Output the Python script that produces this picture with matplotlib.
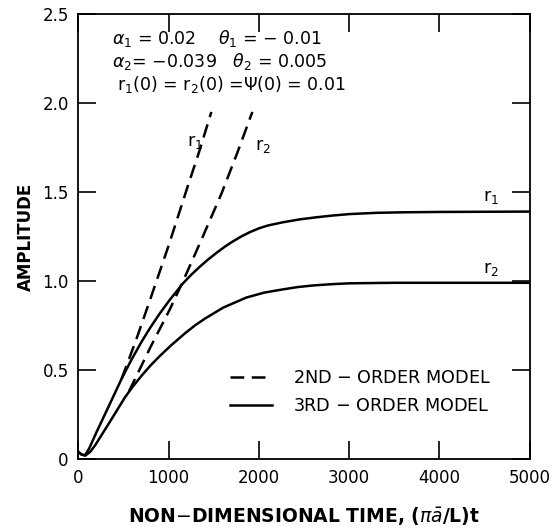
import matplotlib
matplotlib.use("Agg")
import matplotlib.pyplot as plt
from matplotlib.lines import Line2D

# ---- data ----
t_r1_3rd = [0, 35, 72, 120, 200, 330, 478, 590, 699, 800, 902, 1012, 1159, 1250, 1340, 1430, 1529,
            1620, 1700, 1800, 1897, 2000, 2100, 2266, 2450, 2635, 2820, 3003, 3300, 3600, 4000, 4500, 5000]
a_r1_3rd = [0.04, 0.025, 0.02, 0.06, 0.15, 0.29, 0.45, 0.56, 0.658, 0.741, 0.818, 0.894, 0.987, 1.035,
            1.078, 1.118, 1.158, 1.192, 1.219, 1.249, 1.274, 1.296, 1.312, 1.33, 1.346, 1.358, 1.368,
            1.376, 1.383, 1.386, 1.388, 1.389, 1.39]

t_r2_3rd = [0, 35, 80, 130, 183, 350, 514, 600, 700, 800, 900, 1030, 1178, 1290, 1400, 1602, 1860,
            2060, 2266, 2430, 2600, 2800, 3003, 3500, 4000, 5000]
a_r2_3rd = [0.04, 0.025, 0.02, 0.04, 0.075, 0.21, 0.345, 0.405, 0.468, 0.526, 0.578, 0.64, 0.705,
            0.75, 0.788, 0.85, 0.907, 0.935, 0.953, 0.966, 0.975, 0.982, 0.987, 0.99, 0.99, 0.99]

t_r1_2nd = [478, 640, 791, 1000, 1197, 1340, 1473]
a_r1_2nd = [0.45, 0.67, 0.89, 1.20, 1.51, 1.73, 1.95]

t_r2_2nd = [560, 800, 1012, 1160, 1370, 1584, 1760, 1927]
a_r2_2nd = [0.38, 0.63, 0.84, 1.00, 1.24, 1.49, 1.72, 1.95]

x_ticks = [0, 1000, 2000, 3000, 4000, 5000]
y_ticks = [0, 0.5, 1.0, 1.5, 2.0, 2.5]
y_ticklabels = ["0", "0.5", "1.0", "1.5", "2.0", "2.5"]

plt.rcParams['font.family'] = ['DejaVu Sans']
plt.rcParams['mathtext.fontset'] = 'dejavusans'

fig = plt.figure(figsize=(5.6, 5.31), dpi=100)
ax = fig.add_axes([0.140, 0.1356, 0.806, 0.838])

lw = 1.8
ax.plot(t_r1_3rd, a_r1_3rd, color='black', lw=lw, solid_joinstyle='round')
ax.plot(t_r2_3rd, a_r2_3rd, color='black', lw=lw, solid_joinstyle='round')
ax.plot(t_r1_2nd, a_r1_2nd, color='black', lw=lw, dashes=(5.5, 3))
ax.plot(t_r2_2nd, a_r2_2nd, color='black', lw=lw, dashes=(5.5, 3))

ax.set_xlim(0, 5000)
ax.set_ylim(0, 2.5)
ax.set_xticks(x_ticks)
ax.set_xticklabels([str(v) for v in x_ticks])
ax.set_yticks(y_ticks)
ax.set_yticklabels(y_ticklabels)
ax.tick_params(direction='in', length=13, width=1.2, labelsize=12, top=True, right=True, pad=7)
for s in ax.spines.values():
    s.set_linewidth(1.3)

ax.set_xlabel(r"NON$-$DIMENSIONAL TIME, ($\pi\bar{a}$/L)t", fontsize=13.5, fontweight='bold', labelpad=13)
ax.set_ylabel("AMPLITUDE", fontsize=12, fontweight='bold', labelpad=5)

# annotations
fs = 12.5
ax.text(0.075, 0.945, r"$\alpha_1$ = 0.02    $\theta_1$ = $-$ 0.01", transform=ax.transAxes, fontsize=fs, va='center')
ax.text(0.075, 0.893, r"$\alpha_2$= $-$0.039   $\theta_2$ = 0.005", transform=ax.transAxes, fontsize=fs, va='center')
ax.text(0.085, 0.841, r"r$_1$(0) = r$_2$(0) =$\Psi$(0) = 0.01", transform=ax.transAxes, fontsize=fs, va='center')

# curve labels
ax.text(1200, 1.78, r"r$_1$", fontsize=12.5, va='center')
ax.text(1960, 1.76, r"r$_2$", fontsize=12.5, va='center')
ax.text(4480, 1.47, r"r$_1$", fontsize=12.5, va='center')
ax.text(4480, 1.07, r"r$_2$", fontsize=12.5, va='center')

# legend
h1 = Line2D([], [], color='black', lw=lw, dashes=(5.5, 3))
h2 = Line2D([], [], color='black', lw=lw)
ax.legend([h1, h2], ["2ND $-$ ORDER MODEL", "3RD $-$ ORDER MODEL"], frameon=False,
          fontsize=12.7, handlelength=2.4, handletextpad=1.2, labelspacing=0.55,
          loc='lower left', bbox_to_anchor=(0.30, 0.063))

fig.savefig("out.png", dpi=100)
